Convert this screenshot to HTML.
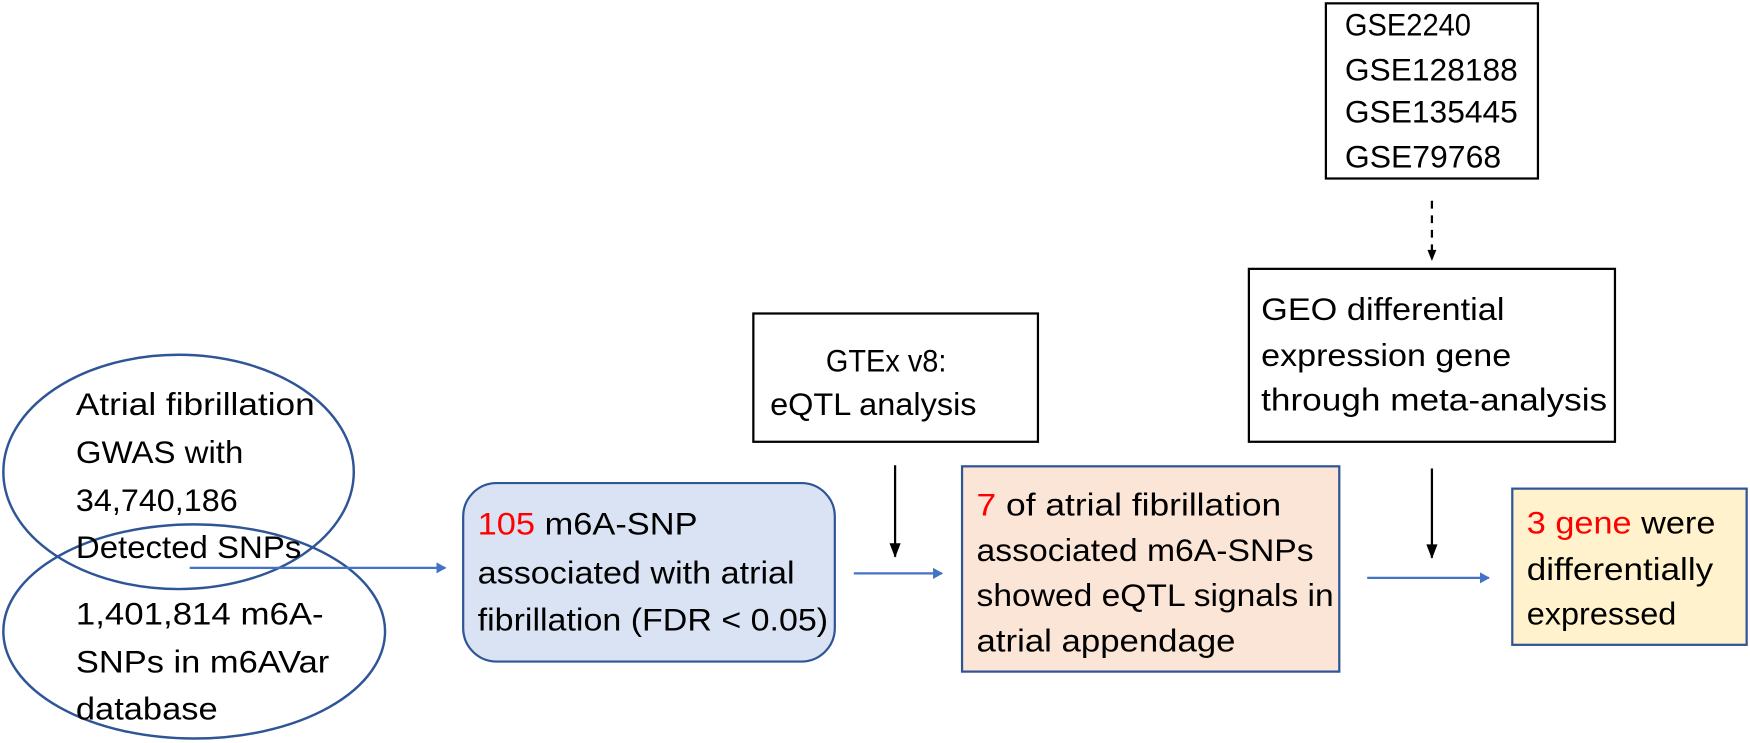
<!DOCTYPE html>
<html><head><meta charset="utf-8"><style>
html,body{margin:0;padding:0;background:#fff;overflow:hidden;}
svg{display:block;}
text{font-family:"Liberation Sans",sans-serif;font-size:28px;fill:#000;}
.r{fill:#ff0000;}
</style></head><body>
<svg width="1750" height="743" viewBox="0 0 1568 666" preserveAspectRatio="none" xmlns="http://www.w3.org/2000/svg">
<defs>
<marker id="ab" markerWidth="10" markerHeight="10" refX="8" refY="5" orient="auto" markerUnits="userSpaceOnUse"><path d="M0,0 L9,5 L0,10 z" fill="#4472c4"/></marker>
</defs>
<!-- ellipses -->
<ellipse cx="160" cy="423" rx="157" ry="105" fill="none" stroke="#2f5597" stroke-width="2.2"/>
<ellipse cx="174" cy="566" rx="171" ry="96" fill="none" stroke="#2f5597" stroke-width="2.2"/>
<text x="68" y="372" textLength="214" lengthAdjust="spacingAndGlyphs">Atrial fibrillation</text>
<text x="68" y="415" textLength="150" lengthAdjust="spacingAndGlyphs">GWAS with</text>
<text x="68" y="458" textLength="145" lengthAdjust="spacingAndGlyphs">34,740,186</text>
<text x="68" y="500" textLength="202" lengthAdjust="spacingAndGlyphs">Detected SNPs</text>
<text x="68" y="560" textLength="222" lengthAdjust="spacingAndGlyphs">1,401,814 m6A-</text>
<text x="68" y="603" textLength="227" lengthAdjust="spacingAndGlyphs">SNPs in m6AVar</text>
<text x="68" y="645" textLength="127" lengthAdjust="spacingAndGlyphs">database</text>
<!-- arrow 1 -->
<line x1="170" y1="509" x2="399" y2="509" stroke="#4472c4" stroke-width="2" marker-end="url(#ab)"/>
<!-- blue box -->
<rect x="415" y="433" width="333" height="160" rx="30" fill="#dae3f3" stroke="#2f5597" stroke-width="2"/>
<text x="428" y="479" textLength="197" lengthAdjust="spacingAndGlyphs"><tspan class="r">105</tspan> m6A-SNP</text>
<text x="428" y="523" textLength="284" lengthAdjust="spacingAndGlyphs">associated with atrial</text>
<text x="428" y="565" textLength="314" lengthAdjust="spacingAndGlyphs">fibrillation (FDR &lt; 0.05)</text>
<!-- GTEx -->
<rect x="675" y="281" width="255" height="115" fill="#fff" stroke="#000" stroke-width="2"/>
<text x="740" y="333" textLength="108" lengthAdjust="spacingAndGlyphs">GTEx v8:</text>
<text x="690" y="372" textLength="185" lengthAdjust="spacingAndGlyphs">eQTL analysis</text>
<line x1="802" y1="417" x2="802" y2="499" stroke="#000" stroke-width="2"/>
<path d="M797,487 L802,500 L807,487 z" fill="#000"/>
<line x1="765" y1="514" x2="844" y2="514" stroke="#4472c4" stroke-width="2" marker-end="url(#ab)"/>
<!-- pink -->
<rect x="862" y="418" width="338" height="184" fill="#fbe5d6" stroke="#2f5597" stroke-width="2"/>
<text x="875" y="462" textLength="273" lengthAdjust="spacingAndGlyphs"><tspan class="r">7</tspan> of atrial fibrillation</text>
<text x="875" y="503" textLength="302" lengthAdjust="spacingAndGlyphs">associated m6A-SNPs</text>
<text x="875" y="543" textLength="320" lengthAdjust="spacingAndGlyphs">showed eQTL signals in</text>
<text x="875" y="584" textLength="232" lengthAdjust="spacingAndGlyphs">atrial appendage</text>
<!-- GEO -->
<rect x="1119" y="241" width="328" height="155" fill="#fff" stroke="#000" stroke-width="2"/>
<text x="1130" y="287" textLength="218" lengthAdjust="spacingAndGlyphs">GEO differential</text>
<text x="1130" y="328" textLength="224" lengthAdjust="spacingAndGlyphs">expression gene</text>
<text x="1130" y="368" textLength="310" lengthAdjust="spacingAndGlyphs">through meta-analysis</text>
<!-- GSE -->
<rect x="1188" y="3" width="190" height="157" fill="#fff" stroke="#000" stroke-width="2"/>
<text x="1205" y="32" textLength="113" lengthAdjust="spacingAndGlyphs">GSE2240</text>
<text x="1205" y="72" textLength="155" lengthAdjust="spacingAndGlyphs">GSE128188</text>
<text x="1205" y="110" textLength="155" lengthAdjust="spacingAndGlyphs">GSE135445</text>
<text x="1205" y="150" textLength="140" lengthAdjust="spacingAndGlyphs">GSE79768</text>
<line x1="1283" y1="180" x2="1283" y2="232" stroke="#000" stroke-width="2" stroke-dasharray="7,6"/>
<path d="M1279,224 L1283,234 L1287,224 z" fill="#000"/>
<line x1="1283" y1="420" x2="1283" y2="500" stroke="#000" stroke-width="2"/>
<path d="M1278,488 L1283,501 L1288,488 z" fill="#000"/>
<line x1="1225" y1="518" x2="1334" y2="518" stroke="#4472c4" stroke-width="2" marker-end="url(#ab)"/>
<!-- yellow -->
<rect x="1355" y="438" width="210" height="140" fill="#fff2cc" stroke="#2f5597" stroke-width="2"/>
<text x="1368" y="478" textLength="169" lengthAdjust="spacingAndGlyphs"><tspan class="r">3 gene</tspan> were</text>
<text x="1368" y="520" textLength="167" lengthAdjust="spacingAndGlyphs">differentially</text>
<text x="1368" y="560" textLength="134" lengthAdjust="spacingAndGlyphs">expressed</text>
</svg>
</body></html>
